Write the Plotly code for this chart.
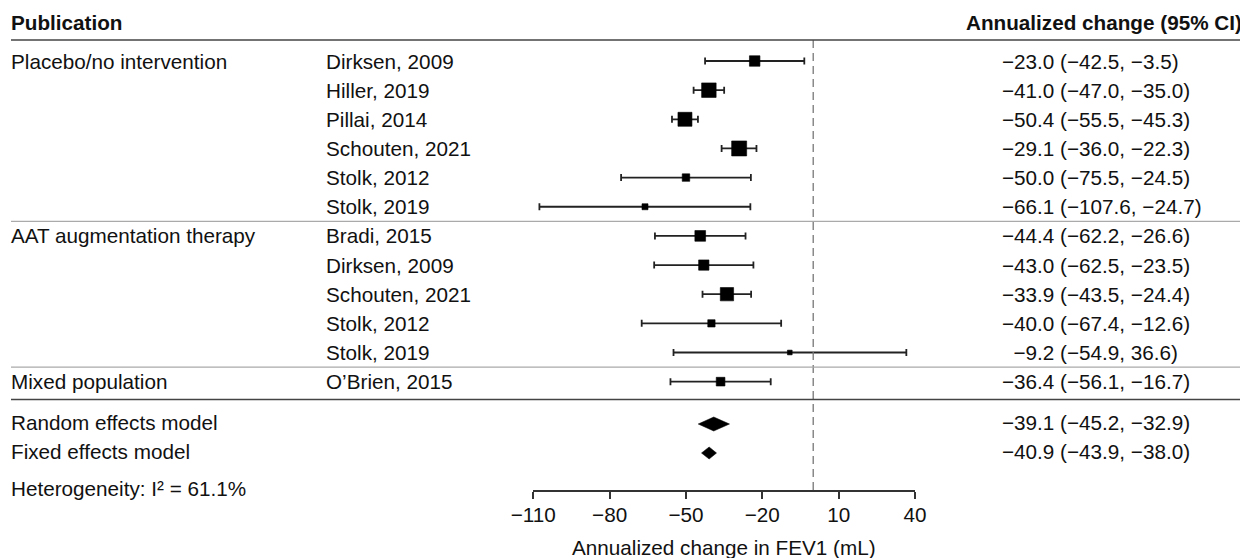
import plotly.graph_objects as go

# ---------------- data ----------------
groups = ["Placebo/no intervention", "Placebo/no intervention", "Placebo/no intervention",
          "Placebo/no intervention", "Placebo/no intervention", "Placebo/no intervention",
          "AAT augmentation therapy", "AAT augmentation therapy", "AAT augmentation therapy",
          "AAT augmentation therapy", "AAT augmentation therapy",
          "Mixed population"]
studies = ["Dirksen, 2009", "Hiller, 2019", "Pillai, 2014", "Schouten, 2021", "Stolk, 2012", "Stolk, 2019",
           "Bradi, 2015", "Dirksen, 2009", "Schouten, 2021", "Stolk, 2012", "Stolk, 2019",
           "O\u2019Brien, 2015"]
estimate = [-23.0, -41.0, -50.4, -29.1, -50.0, -66.1, -44.4, -43.0, -33.9, -40.0, -9.2, -36.4]
ci_low = [-42.5, -47.0, -55.5, -36.0, -75.5, -107.6, -62.2, -62.5, -43.5, -67.4, -54.9, -56.1]
ci_high = [-3.5, -35.0, -45.3, -22.3, -24.5, -24.7, -26.6, -23.5, -24.4, -12.6, 36.6, -16.7]
weights = [10.5, 14.5, 14, 15, 7.5, 6, 10.7, 10.3, 13.3, 7.3, 4.7, 8.7]

model_names = ["Random effects model", "Fixed effects model"]
model_est = [-39.1, -40.9]
model_low = [-45.2, -43.9]
model_high = [-32.9, -38.0]

heterogeneity = "Heterogeneity: I\u00b2 = 61.1%"
tick_vals = [-110, -80, -50, -20, 10, 40]
x_title = "Annualized change in FEV1 (mL)"

# ---------------- layout helpers ----------------
# The page body has an 8px margin; the figure is placed at (8, 8) on the screen.
OFF = 8
SCREEN_W, SCREEN_H = 1248, 558
W, H = SCREEN_W - OFF, SCREEN_H - OFF
FONT = "Liberation Sans, Arial, Helvetica, sans-serif"
FS = 20.7
TXT = "#111111"

# screen-pixel layout positions
ROW0, ROWSTEP = 61, 29.15
row_scr = [ROW0 + ROWSTEP * i for i in range(len(studies))]
model_scr = [424, 453]
AXIS_SCR = 491
PLOT_X0, PLOT_X1 = 533.3, 915


def px(x):
    """screen x pixel -> paper fraction"""
    return (x - OFF) / W


def py(y):
    """screen y pixel -> y data (y axis spans full figure in pixels)"""
    return y - OFF


def fmt(v):
    return f"{v:.1f}".replace("-", "\u2212")


def ci_text(e, lo, hi):
    s = fmt(e)
    pad = "\u2007" * max(0, 5 - len(s))
    return f"{pad}{s} ({fmt(lo)}, {fmt(hi)})"


row_y = [py(v) for v in row_scr]
model_y = [py(v) for v in model_scr]

fig = go.Figure()

# CI whiskers
fig.add_trace(go.Scatter(
    x=estimate, y=row_y, mode="markers",
    marker=dict(size=0.1, color="rgba(0,0,0,0)"),
    error_x=dict(type="data", symmetric=False,
                 array=[h - e for h, e in zip(ci_high, estimate)],
                 arrayminus=[e - l for e, l in zip(estimate, ci_low)],
                 color="#222222", thickness=1.8, width=3.5),
    hoverinfo="skip", showlegend=False,
))
# study squares
fig.add_trace(go.Scatter(
    x=estimate, y=row_y, mode="markers", opacity=1,
    marker=dict(symbol="square", size=weights, color="#000000", opacity=1,
                line=dict(width=0.6, color="#000000")),
    hoverinfo="skip", showlegend=False,
))

# model diamonds
heights = [14, 12]
for e, lo, hi, yc, h in zip(model_est, model_low, model_high, model_y, heights):
    fig.add_trace(go.Scatter(
        x=[lo, e, hi, e, lo], y=[yc, yc - h / 2, yc, yc + h / 2, yc],
        mode="lines", fill="toself", fillcolor="black",
        line=dict(color="black", width=0.5), hoverinfo="skip", showlegend=False,
    ))

shapes = []
# null line
shapes.append(dict(type="line", xref="x", yref="y", x0=0, x1=0, y0=py(40), y1=py(AXIS_SCR),
                   line=dict(color="#777777", width=1.3, dash="8px,5px")))
# separators
LINE_X0 = 11
shapes.append(dict(type="line", xref="paper", yref="y", x0=px(LINE_X0), x1=1, y0=py(40), y1=py(40),
                   line=dict(color="#444444", width=1.6)))
for i in range(1, len(groups)):
    if groups[i] != groups[i - 1]:
        yy = (row_y[i] + row_y[i - 1]) / 2
        shapes.append(dict(type="line", xref="paper", yref="y", x0=px(LINE_X0), x1=1, y0=yy, y1=yy,
                           line=dict(color="#aaaaaa", width=1.3)))
shapes.append(dict(type="line", xref="paper", yref="y", x0=px(LINE_X0), x1=1, y0=py(399.5), y1=py(399.5),
                   line=dict(color="#444444", width=1.6)))

# text columns (screen px; annotation box adds ~2px padding)
COL_GROUP, COL_STUDY, COL_CI, COL_RIGHT = 9, 324, 1000, 1244

ann = []


def add_text(text, x, y, anchor="left"):
    ann.append(dict(text=text, x=px(x), y=y, xref="paper", yref="y",
                    xanchor=anchor, yanchor="middle", showarrow=False))


add_text("<b>Publication</b>", COL_GROUP, py(22))
add_text("<b>Annualized change (95% CI)</b>", COL_RIGHT, py(22), "right")
for i, (g, s, e, lo, hi, yy) in enumerate(zip(groups, studies, estimate, ci_low, ci_high, row_y)):
    if i == 0 or groups[i - 1] != g:
        add_text(g, COL_GROUP, yy)
    add_text(s, COL_STUDY, yy)
    add_text(ci_text(e, lo, hi), COL_CI, yy)
for n, e, lo, hi, yy in zip(model_names, model_est, model_low, model_high, model_y):
    add_text(n, COL_GROUP, yy - 2)
    add_text(ci_text(e, lo, hi), COL_CI, yy - 2)
add_text(heterogeneity, COL_GROUP, py(488))
add_text(x_title, (PLOT_X0 + PLOT_X1) / 2, py(547), "center")

fig.update_layout(
    width=W, height=H,
    margin=dict(l=0, r=0, t=0, b=0, pad=0, autoexpand=False),
    paper_bgcolor="white", plot_bgcolor="white",
    font=dict(family=FONT, size=FS, color=TXT),
    shapes=shapes, annotations=ann,
    showlegend=False,
    xaxis=dict(domain=[px(PLOT_X0), px(PLOT_X1)], range=[-110, 40], anchor="free",
               position=1 - py(AXIS_SCR) / H, automargin=False,
               tickvals=tick_vals, ticktext=[fmt(v).replace(".0", "") for v in tick_vals],
               ticks="outside", ticklen=7, tickwidth=1.6, tickcolor="#333333",
               showline=True, linecolor="#333333", linewidth=1.6,
               showgrid=False, zeroline=False, fixedrange=True,
               ticklabelstandoff=-2,
               tickfont=dict(size=FS, color=TXT)),
    yaxis=dict(domain=[0, 1], range=[H, 0], visible=False, fixedrange=True, automargin=False),
)

fig.write_html("out.html")
